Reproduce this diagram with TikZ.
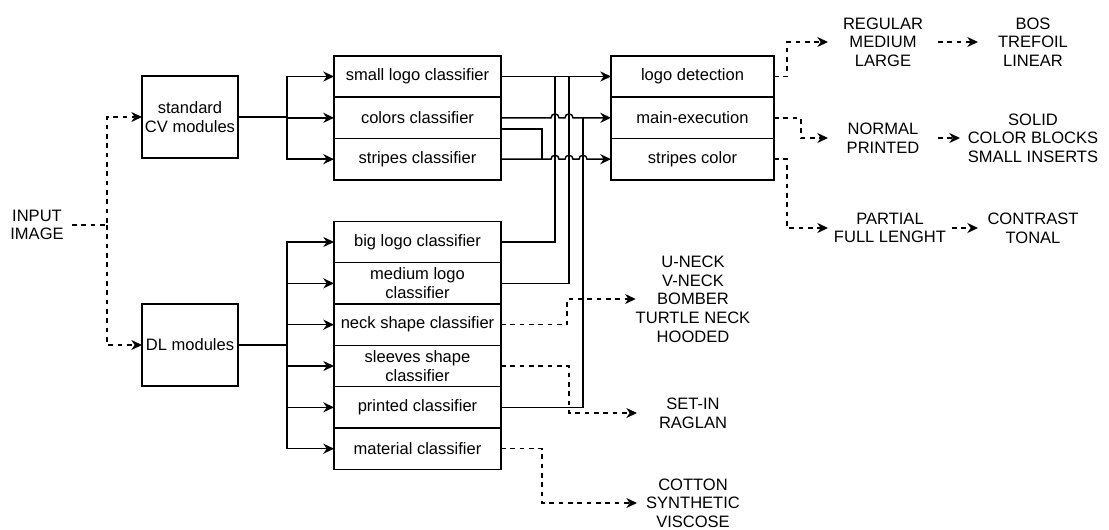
\documentclass[tikz,border=0pt]{standalone}
\usepackage{fontspec}
\setmainfont{Liberation Sans}
\usetikzlibrary{arrows.meta,positioning,calc}

\begin{document}
\begin{tikzpicture}[
  x=0.75pt, y=0.75pt,
  font=\fontsize{12.4}{14}\selectfont,
  every node/.style={outer sep=0pt},
  box/.style={rectangle, draw, line width=1.1pt, minimum width=125.25pt,
              minimum height=31pt, inner sep=1pt, align=center},
  module/.style={box, minimum width=72pt, minimum height=61.5pt},
  outbox/.style={box, minimum width=122.25pt},
  result/.style={minimum width=82.5pt, inner sep=0pt, align=center},
  arrow/.style={-{Stealth[length=8pt,width=7.5pt,inset=2.5pt]}, line width=1.1pt},
  link/.style={line width=1.1pt},
  dasharrow/.style={arrow, dash pattern=on 3.5pt off 3.5pt},
  hop/.style={insert path={arc[start angle=180, end angle=0, radius=4]}}
]
\useasboundingbox (0,0) rectangle (1109,-529);

% input and the two module groups
\node[result, minimum width=52.5pt] (input) at (37,-225) {INPUT\\IMAGE};
\node[module] (cv) at (190,-117) {standard\\CV modules};
\node[module] (dl) at (190,-345) {DL modules};

% classical classifiers
\node[box] (small) at (417.5,-76.5) {small logo classifier};
\node[box, below=0pt of small] (colors) {colors classifier};
\node[box, below=0pt of colors] (stripes) {stripes classifier};

% learned classifiers
\node[box] (biglogo) at (417.5,-242) {big logo classifier};
\node[box, below=0pt of biglogo] (medlogo) {medium logo\\classifier};
\node[box, below=0pt of medlogo] (neck) {neck shape classifier};
\node[box, below=0pt of neck] (sleeves) {sleeves shape\\classifier};
\node[box, below=0pt of sleeves] (printed) {printed classifier};
\node[box, below=0pt of printed] (material) {material classifier};

% merged stages
\node[outbox] (logo) at (692.5,-76.5) {logo detection};
\node[outbox, below=0pt of logo] (mainex) {main-execution};
\node[outbox, below=0pt of mainex] (stripecol) {stripes color};

% output classes
\node[result] (size) at (883,-42) {REGULAR\\MEDIUM\\LARGE};
\node[result] (shape) at (1033,-42) {BOS\\TREFOIL\\LINEAR};
\node[result] (print) at (883,-138) {NORMAL\\PRINTED};
\node[result, minimum width=109.5pt] (block) at (1033,-138) {SOLID\\COLOR BLOCKS\\SMALL INSERTS};
\node[result, minimum width=93pt] (stripe) at (890,-228) {PARTIAL\\FULL LENGHT};
\node[result] (tone) at (1033,-228) {CONTRAST\\TONAL};
\node[result, minimum width=84pt] (neckout) at (693,-299) {U-NECK\\V-NECK\\BOMBER\\TURTLE NECK\\HOODED};
\node[result, minimum width=84pt] (sleeveout) at (693,-413) {SET-IN\\RAGLAN};
\node[result, minimum width=84pt] (materialout) at (693,-503) {COTTON\\SYNTHETIC\\VISCOSE};

% junctions on the merged lines
\coordinate (bigjoin) at ($(small.east)+(54,0)$);
\coordinate (medjoin) at ($(small.east)+(68,0)$);
\coordinate (printjoin) at ($(colors.east)+(82,0)$);
\coordinate (stripejoin) at ($(stripes.east)+(41,0)$);

\draw[dasharrow] (input.east) -- ++(35,0) coordinate (fork) |- (cv.west);
\draw[dasharrow] (fork) |- (dl.west);

\foreach \c in {small,colors,stripes}
  \draw[arrow] (cv.east) -- ++(49,0) |- (\c.west);
\foreach \c in {biglogo,medlogo,neck,sleeves,printed,material}
  \draw[arrow] (dl.east) -- ++(49,0) |- (\c.west);

\draw[arrow] (small.east) -- (logo.west);
\draw[arrow] (colors.east) -- ++(50,0) [hop] -- ++(6,0) [hop] -- (mainex.west);
\draw[arrow] (stripes.east) -- ++(50,0) [hop] -- ++(6,0) [hop] -- ++(6,0) [hop] -- (stripecol.west);
\draw[link] ([yshift=-8.5pt]colors.east) -| (stripejoin);

\draw[link] (biglogo.east) -| (bigjoin);
\draw[link] (medlogo.east) -| (medjoin);
\draw[link] (printed.east) -| (printjoin);

\draw[dasharrow] (logo.east) -- ++(13,0) |- (size.west);
\draw[dasharrow] (size.east) -- (shape.west);
\draw[dasharrow] (mainex.east) -- ++(27,0) |- (print.west);
\draw[dasharrow] (print.east) -- (block.west);
\draw[dasharrow] (stripecol.east) -- ++(13,0) |- (stripe.west);
\draw[dasharrow] (stripe.east) -- (tone.west);

\draw[dasharrow] (neck.east) -- ++(66,0) |- (neckout.west);
\draw[dasharrow] (sleeves.east) -- ++(68,0) |- (sleeveout.west);
\draw[dasharrow] (material.east) -- ++(41,0) |- (materialout.west);
\end{tikzpicture}
\end{document}
